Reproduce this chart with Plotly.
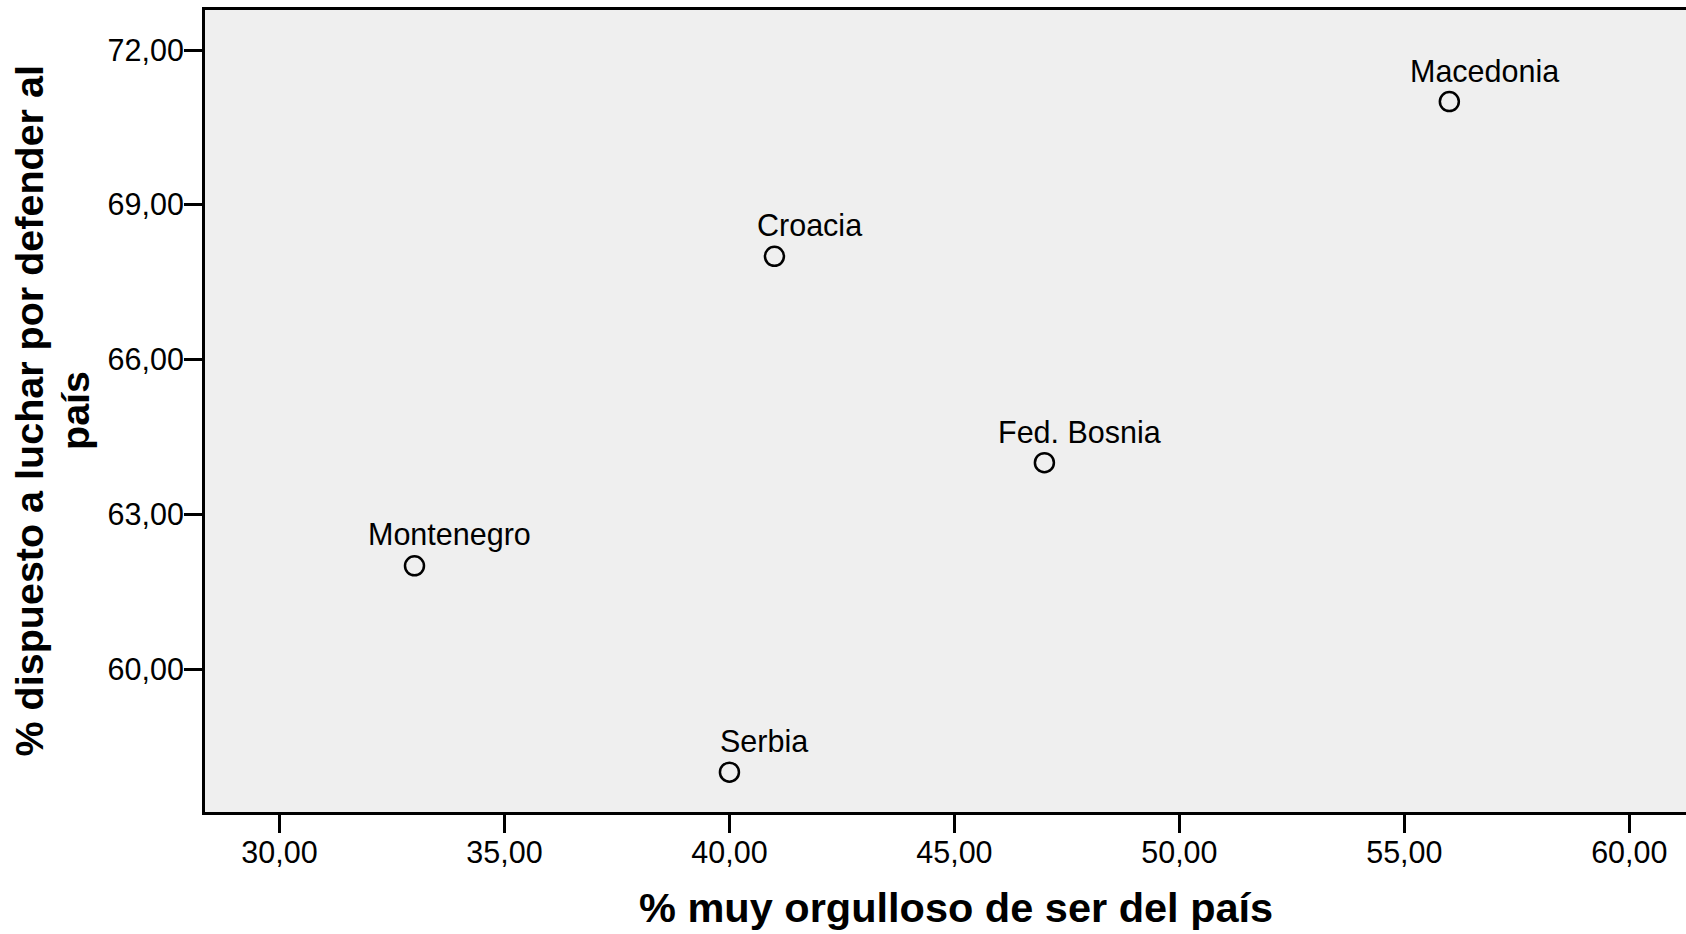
import plotly.graph_objects as go

# Values
paises = ["Macedonia", "Croacia", "Fed. Bosnia", "Montenegro", "Serbia"]
orgulloso = [56.0, 41.0, 47.0, 33.0, 40.0]
dispuesto = [71.0, 68.0, 64.0, 62.0, 58.0]

x_ticks = [30, 35, 40, 45, 50, 55, 60]
y_ticks = [60, 63, 66, 69, 72]

FONT = "Liberation Sans, Arial, sans-serif"

W, H = 1686, 934
ML, MT, MB = 205, 10, 122
PW, PH = W - ML, H - MT - MB

fig = go.Figure()

fig.add_trace(go.Scatter(
    x=orgulloso,
    y=dispuesto,
    mode="markers",
    marker=dict(symbol="circle-open", size=19, color="black",
                line=dict(width=2.5, color="black")),
    hoverinfo="skip",
    showlegend=False,
))

# country labels, up and to the right of each point
for nombre, xv, yv in zip(paises, orgulloso, dispuesto):
    fig.add_annotation(
        x=xv, y=yv, text=nombre, showarrow=False,
        xshift=35, yshift=31, xanchor="center", yanchor="middle",
        font=dict(family=FONT, size=30.5, color="black"),
    )

# axis titles (positions given in page pixels)
fig.add_annotation(
    xref="paper", yref="paper", x=(956 - ML) / PW, y=(PH + MT - 907) / PH,
    text="<b>% muy orgulloso de ser del país</b>", showarrow=False,
    xanchor="center", yanchor="middle",
    font=dict(family=FONT, size=41.5, color="black"),
)
for texto, px_x in [("<b>% dispuesto a luchar por defender al</b>", 28.5),
                    ("<b>país</b>", 75)]:
    fig.add_annotation(
        xref="paper", yref="paper", x=(px_x - ML) / PW, y=0.5,
        text=texto, showarrow=False,
        textangle=-90, xanchor="center", yanchor="middle",
        font=dict(family=FONT, size=39.5, color="black"),
    )

axis_common = dict(
    showgrid=False, zeroline=False,
    showline=True, linecolor="black", linewidth=3,
    ticks="outside", ticklen=18, tickwidth=3, tickcolor="black",
    tickformat=".2f",
    tickfont=dict(family=FONT, size=30.5, color="black"),
)

fig.update_xaxes(range=[28.344, 61.26], tickvals=x_ticks, mirror=True,
                 ticklabelstandoff=-7, **axis_common)
fig.update_yaxes(range=[57.228, 72.776], tickvals=y_ticks, mirror=False,
                 ticklabelstandoff=-6, **axis_common)

fig.update_layout(
    width=W, height=H,
    margin=dict(l=ML, r=0, t=MT, b=MB),
    paper_bgcolor="white",
    plot_bgcolor="#efefef",
    separators=",.",
    font=dict(family=FONT, color="black"),
)

# drop the default 8px body margin so the figure fills the window exactly
fig.write_html("out.html", config={"displayModeBar": False},
               post_script="document.body.style.margin='0';")
